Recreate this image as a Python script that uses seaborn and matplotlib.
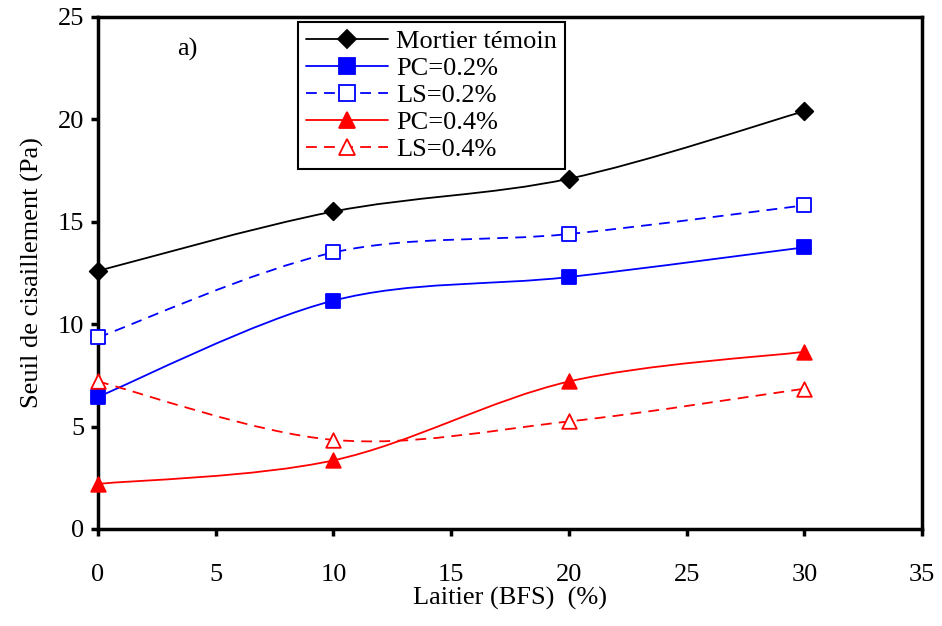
import numpy as np
import pandas as pd
import matplotlib
matplotlib.use("Agg")
import matplotlib.pyplot as plt
import matplotlib.lines as mlines
from matplotlib.path import Path
from matplotlib.patches import PathPatch
import seaborn as sns

# Data
laitier = [0, 10, 20, 30]
mortier_temoin = [12.6, 15.5, 17.1, 20.4]
pc_02 = [6.45, 11.15, 12.3, 13.75]
ls_02 = [9.35, 13.5, 14.4, 15.8]
pc_04 = [2.2, 3.35, 7.2, 8.65]
ls_04 = [7.2, 4.35, 5.25, 6.85]

series = [
    ("Mortier témoin", mortier_temoin, "black", "-", "D", "black"),
    ("PC=0.2%", pc_02, "#0000FF", "-", "s", "#0000FF"),
    ("LS=0.2%", ls_02, "#0000FF", (0, (6, 4)), "s", "white"),
    ("PC=0.4%", pc_04, "#FF0000", "-", "^", "#FF0000"),
    ("LS=0.4%", ls_04, "#FF0000", (0, (6, 4)), "^", "white"),
]

sns.set_theme(style="white")
plt.rcParams['font.family'] = ['Liberation Serif', 'DejaVu Serif']
plt.rcParams['text.color'] = 'black'
plt.rcParams['axes.labelcolor'] = 'black'
plt.rcParams['xtick.color'] = 'black'
plt.rcParams['ytick.color'] = 'black'


def smooth_path(x, y):
    # Excel-like smoothed line: cubic bezier through the points
    pts = np.column_stack([x, y]).astype(float)
    n = len(pts)
    verts = [pts[0]]
    codes = [Path.MOVETO]
    for i in range(n - 1):
        p0 = pts[i - 1] if i > 0 else pts[i]
        p1 = pts[i]
        p2 = pts[i + 1]
        p3 = pts[i + 2] if i + 2 < n else pts[i + 1]
        c1 = p1 + (p2 - p0) / 6.0
        c2 = p2 - (p3 - p1) / 6.0
        verts += [c1, c2, p2]
        codes += [Path.CURVE4] * 3
    return Path(verts, codes)


fig = plt.figure(figsize=(9.42, 6.26), dpi=100)
ax = fig.add_axes([0.104, 0.155, 0.875, 0.818])

handles = []
for label, vals, color, ls, marker, face in series:
    patch = PathPatch(smooth_path(laitier, vals), facecolor='none', edgecolor=color,
                      linestyle=ls, linewidth=1.3, zorder=2)
    ax.add_patch(patch)
    df = pd.DataFrame({'x': laitier, 'y': vals})
    msize = 110 if marker != 'D' else 80
    sns.scatterplot(data=df, x='x', y='y', marker=marker, s=msize, color=face,
                    edgecolor=color, linewidth=1.3, zorder=3, ax=ax, legend=False)
    ax.collections[-1].set_clip_on(False)
    handles.append(mlines.Line2D([], [], color=color, linestyle=ls, linewidth=1.3,
                                 marker=marker, markersize=11 if marker != 'D' else 9,
                                 markerfacecolor=face, markeredgecolor=color,
                                 markeredgewidth=1.3, label=label))

ax.set_xlim(0, 35)
ax.set_ylim(0, 25)
ax.set_xticks(np.arange(0, 36, 5))
ax.set_yticks(np.arange(0, 26, 5))
ax.set_xlabel("Laitier (BFS)  (%)", fontsize=19, labelpad=1)
ax.set_ylabel("Seuil de cisaillement (Pa)", fontsize=19, labelpad=10)
ax.tick_params(axis='both', labelsize=19, direction='out', length=5, width=2.5,
               color='black', bottom=True, left=True, pad=5)
ax.tick_params(axis='x', pad=20)
for sp in ax.spines.values():
    sp.set_color('black')
    sp.set_linewidth(2.5)

ax.text(3.8, 23.4, "a)", fontsize=19, ha='center', va='center')

leg = ax.legend(handles=handles, loc='upper left', bbox_to_anchor=(0.243, 0.99),
                fontsize=19, frameon=True, fancybox=False, framealpha=1,
                edgecolor='black', handlelength=3.1, handletextpad=0.3,
                labelspacing=0.13, borderpad=0.3, borderaxespad=0)
leg.get_frame().set_linewidth(1.5)

fig.savefig("out.png", dpi=100)
